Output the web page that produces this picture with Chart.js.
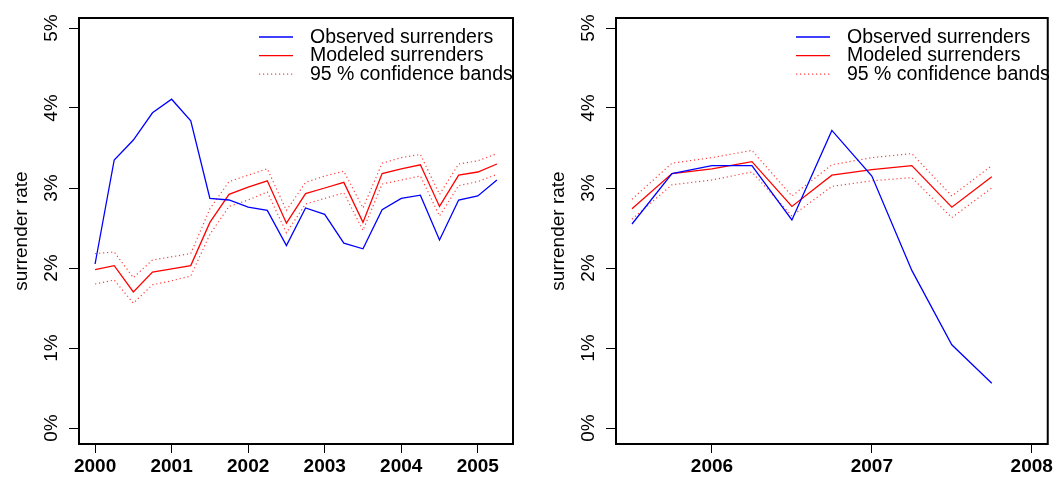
<!DOCTYPE html>
<html>
<head>
<meta charset="utf-8">
<script src="https://cdn.jsdelivr.net/npm/chart.js@4.4.1/dist/chart.umd.min.js"></script>
<style>
  html, body { margin: 0; padding: 0; background: #fff; }
  #wrap { position: relative; width: 1055px; height: 478px; }
  .panel { position: absolute; top: 0; height: 478px; }
</style>
</head>
<body>
<div id="wrap">
  <div class="panel" style="left:0;width:530px"><canvas id="chartA"></canvas></div>
  <div class="panel" style="left:530px;width:525px"><canvas id="chartB"></canvas></div>
</div>
<script>
// quarters 2000 Q1 .. 2005 Q2
var quartersA = [2000, 2000.25, 2000.5, 2000.75, 2001, 2001.25, 2001.5, 2001.75, 2002, 2002.25, 2002.5,
                 2002.75, 2003, 2003.25, 2003.5, 2003.75, 2004, 2004.25, 2004.5, 2004.75, 2005, 2005.25];
var observedA = [2.05, 3.35, 3.60, 3.94, 4.11, 3.84, 2.87, 2.85, 2.76, 2.72, 2.28,
                 2.75, 2.67, 2.31, 2.24, 2.73, 2.87, 2.91, 2.35, 2.85, 2.90, 3.10];
var modeledA  = [1.98, 2.03, 1.70, 1.95, 1.99, 2.03, 2.57, 2.92, 3.01, 3.09, 2.56,
                 2.93, 3.00, 3.07, 2.57, 3.18, 3.24, 3.29, 2.77, 3.16, 3.20, 3.30];
var upperA    = [2.18, 2.20, 1.88, 2.10, 2.14, 2.18, 2.74, 3.08, 3.16, 3.24, 2.72,
                 3.07, 3.15, 3.21, 2.75, 3.31, 3.38, 3.42, 2.92, 3.30, 3.34, 3.43];
var lowerA    = [1.80, 1.85, 1.56, 1.79, 1.84, 1.90, 2.42, 2.77, 2.85, 2.95, 2.44,
                 2.80, 2.87, 2.94, 2.47, 3.05, 3.10, 3.15, 2.65, 3.03, 3.08, 3.17];

// quarters 2005 Q3 .. 2007 Q4
var quartersB = [2005.5, 2005.75, 2006, 2006.25, 2006.5, 2006.75, 2007, 2007.25, 2007.5, 2007.75];
var observedB = [2.55, 3.18, 3.28, 3.28, 2.60, 3.72, 3.15, 1.97, 1.04, 0.56];
var modeledB  = [2.74, 3.18, 3.24, 3.33, 2.77, 3.16, 3.23, 3.28, 2.76, 3.14];
var upperB    = [2.86, 3.31, 3.38, 3.47, 2.90, 3.29, 3.38, 3.43, 2.90, 3.28];
var lowerB    = [2.61, 3.04, 3.10, 3.20, 2.65, 3.02, 3.09, 3.13, 2.63, 3.00];

var xTicksA = [2000, 2001, 2002, 2003, 2004, 2005];
var xTicksB = [2006, 2007, 2008];
var yTicks = [0, 1, 2, 3, 4, 5];
var legendLabels = ['Observed surrenders', 'Modeled surrenders', '95 % confidence bands'];
var yTitle = 'surrender rate';

var FONT = '"Liberation Sans", Arial, Helvetica, sans-serif';

function toPoints(xs, ys) {
  return xs.map(function(x, i) { return { x: x, y: ys[i] }; });
}

// R-style decorations: full box, rotated y labels, legend without frame
var rStyle = {
  id: 'rStyle',
  afterDraw: function(chart) {
    var ctx = chart.ctx, a = chart.chartArea;
    ctx.save();
    ctx.strokeStyle = '#000';
    ctx.lineWidth = 2;
    ctx.strokeRect(a.left, a.top, a.right - a.left, a.bottom - a.top);

    // y tick labels, parallel to the axis
    var ys = chart.scales.y;
    ctx.fillStyle = '#000';
    ctx.font = '19px ' + FONT;
    ctx.textAlign = 'center';
    ctx.textBaseline = 'middle';
    ys.ticks.forEach(function(t) {
      var py = ys.getPixelForValue(t.value);
      ctx.save();
      ctx.translate(a.left - 27, py);
      ctx.rotate(-Math.PI / 2);
      ctx.fillText(t.value + '%', 0, 0);
      ctx.restore();
    });

    // legend (first three datasets)
    ctx.textAlign = 'left';
    ctx.font = '19.5px ' + FONT;
    for (var i = 0; i < 3; i++) {
      var ds = chart.data.datasets[i];
      var ly = a.top + 19 + i * 18.6;
      ctx.beginPath();
      ctx.strokeStyle = ds.borderColor;
      ctx.lineWidth = ds.borderWidth;
      ctx.setLineDash(ds.borderDash || []);
      ctx.moveTo(a.left + 180, ly);
      ctx.lineTo(a.left + 214, ly);
      ctx.stroke();
      ctx.setLineDash([]);
      ctx.fillStyle = '#000';
      ctx.fillText(legendLabels[i], a.left + 231, ly + 0.5);
    }
    ctx.restore();
  }
};

function makeChart(id, xs, obs, mod, up, lo, xTicks, xMin, xMax, yWidth, padRight) {
  var ctx = document.getElementById(id).getContext('2d');
  var dotted = { borderColor: 'rgba(255,0,0,0.75)', borderWidth: 1.2, borderDash: [1.2, 2.8] };
  return new Chart(ctx, {
    type: 'line',
    data: {
      datasets: [
        { label: legendLabels[0], data: toPoints(xs, obs), borderColor: '#0000ff', borderWidth: 1.3 },
        { label: legendLabels[1], data: toPoints(xs, mod), borderColor: '#ff0000', borderWidth: 1.3 },
        Object.assign({ label: legendLabels[2], data: toPoints(xs, up) }, dotted),
        Object.assign({ label: legendLabels[2] + ' (lower)', data: toPoints(xs, lo) }, dotted)
      ]
    },
    options: {
      responsive: true,
      maintainAspectRatio: false,
      animation: false,
      events: [],
      layout: { padding: { top: 18, right: padRight, left: 0, bottom: 0 } },
      elements: { point: { radius: 0 }, line: { tension: 0, fill: false } },
      plugins: { legend: { display: false }, tooltip: { enabled: false } },
      scales: {
        x: {
          type: 'linear',
          min: xMin, max: xMax,
          afterBuildTicks: function(s) { s.ticks = xTicks.map(function(v) { return { value: v }; }); },
          afterFit: function(s) { s.height = 34; },
          border: { display: false },
          grid: { drawOnChartArea: false, drawTicks: true, tickLength: 9, color: '#000', lineWidth: 1 },
          ticks: { color: '#000', padding: 2, maxRotation: 0, autoSkip: false,
                   font: { family: FONT, size: 19, weight: 'bold' },
                   callback: function(v) { return String(v); } }
        },
        y: {
          min: -0.2, max: 5.125,
          afterBuildTicks: function(s) { s.ticks = yTicks.map(function(v) { return { value: v }; }); },
          afterFit: function(s) { s.width = yWidth; },
          border: { display: false },
          grid: { drawOnChartArea: false, drawTicks: true, tickLength: 10, color: '#000', lineWidth: 1 },
          ticks: { display: false },
          title: { display: true, text: yTitle, color: '#000', padding: { top: yWidth - 69, bottom: 0 },
                   font: { family: FONT, size: 19 } }
        }
      }
    },
    plugins: [rStyle]
  });
}

makeChart('chartA', quartersA, observedA, modeledA, upperA, lowerA, xTicksA, 1999.79, 2005.46, 79, 17);
makeChart('chartB', quartersB, observedB, modeledB, upperB, lowerB, xTicksB, 2005.4, 2008.1, 86, 3);
</script>
</body>
</html>
